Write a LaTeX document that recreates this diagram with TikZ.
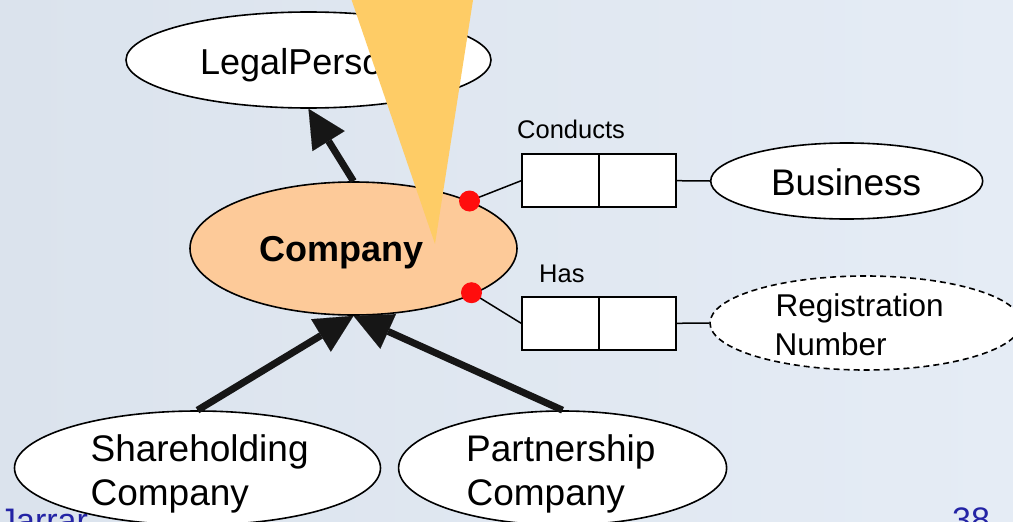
\documentclass[tikz,border=0pt]{standalone}
\usepackage{fontspec}
\setmainfont{Liberation Sans}
\usetikzlibrary{shapes.geometric,arrows.meta}
\definecolor{bgleft}{RGB}{219,227,237}
\definecolor{bgright}{RGB}{229,236,245}
\definecolor{peach}{RGB}{253,202,153}
\definecolor{callout}{RGB}{254,204,102}
\definecolor{dotred}{RGB}{255,13,13}
\definecolor{slideblue}{RGB}{35,35,165}
\definecolor{ink}{RGB}{22,22,22}
\begin{document}
\begin{tikzpicture}[x=1pt,y=-1pt,
  ent/.style={ellipse, draw=black, line width=1.6pt, fill=white, inner sep=0pt},
  rolebox/.style={rectangle, draw=black, line width=1.6pt, fill=white, inner sep=0pt, minimum width=77pt, minimum height=53pt},
  conn/.style={draw=black, line width=1.5pt},
  dotc/.style={circle, fill=dotred, inner sep=0pt, minimum size=21pt},
  isa/.style={draw=ink, line width=7pt, -{Triangle[length=38pt,width=38pt,line width=0.1pt]}},
  lbl/.style={anchor=base west, inner sep=0pt, font=\fontsize{37}{44}\selectfont},
  small/.style={anchor=base west, inner sep=0pt, font=\fontsize{25.5}{30}\selectfont},
  slide/.style={anchor=base west, inner sep=0pt, text=slideblue, font=\fontsize{34}{40}\selectfont}]
\useasboundingbox (0,0) rectangle (1013,522);
\shade[left color=bgleft, right color=bgright] (0,0) rectangle (1013,522);
% slide footer text
\node[slide] (jar) at (-1,532) {Jarrar};
\node[slide] (num) at (952,531) {38};
% entity ellipses
\node[ent, minimum width=365pt, minimum height=96pt] (lp) at (308.5,60) {};
\node[ent, fill=peach, minimum width=327pt, minimum height=133pt] (comp) at (353.5,248.5) {};
\node[ent, minimum width=272pt, minimum height=76pt] (bus) at (846.7,181) {};
\node[ent, dashed, dash pattern=on 6pt off 4pt, minimum width=311pt, minimum height=94pt] (reg) at (865.5,323) {};
\node[ent, minimum width=366pt, minimum height=114pt] (sh) at (197.5,468) {};
\node[ent, minimum width=328pt, minimum height=114pt] (pa) at (562.6,468) {};
% labels
\node[lbl, font=\fontsize{36}{44}\selectfont] (lpt) at (200,74) {LegalPerson};
\node[lbl, font=\fontsize{36}{44}\selectfont\bfseries] (compt) at (259.3,261.7) {Company};
\node[lbl] (bust) at (770.8,195) {Business};
\node[lbl, font=\fontsize{31.5}{38}\selectfont] (regt1) at (775.5,316.7) {Registration};
\node[lbl, font=\fontsize{31.5}{38}\selectfont] (regt2) at (774.4,355) {Number};
\node[lbl] (sht1) at (90.4,461.7) {Shareholding};
\node[lbl] (sht2) at (90.4,505) {Company};
\node[lbl] (pat1) at (466,461.7) {Partnership};
\node[lbl] (pat2) at (466.4,505) {Company};
% role boxes
\node[rolebox] (c1) at (560.5,180.7) {};
\node[rolebox] (c2) at (637.5,180.7) {};
\node[rolebox] (h1) at (560.5,323.3) {};
\node[rolebox] (h2) at (637.5,323.3) {};
\node[small] (condt) at (517,138) {Conducts};
\node[small] (hast) at (539,282.7) {Has};
% connectors
\coordinate (p1) at (469.5,201);
\coordinate (p2) at (471.5,292.7);
\draw[conn] (p1) -- (c1.west);
\draw[conn] (c2.east) -- (bus.west);
\draw[conn] (p2) -- (h1.west);
\draw[conn] (h2.east) -- (reg.west);
\node[dotc] (d1) at (p1) {};
\node[dotc] (d2) at (p2) {};
% subtype arrows
\draw[isa] (comp.north) -- (lp.south);
\draw[isa] (sh.north) -- (comp.south);
\draw[isa] (pa.north) -- (comp.south);
% callout pointer
\fill[callout] (349.9,-5) -- (473.8,-5) -- (435,244) -- cycle;
\end{tikzpicture}
\end{document}
